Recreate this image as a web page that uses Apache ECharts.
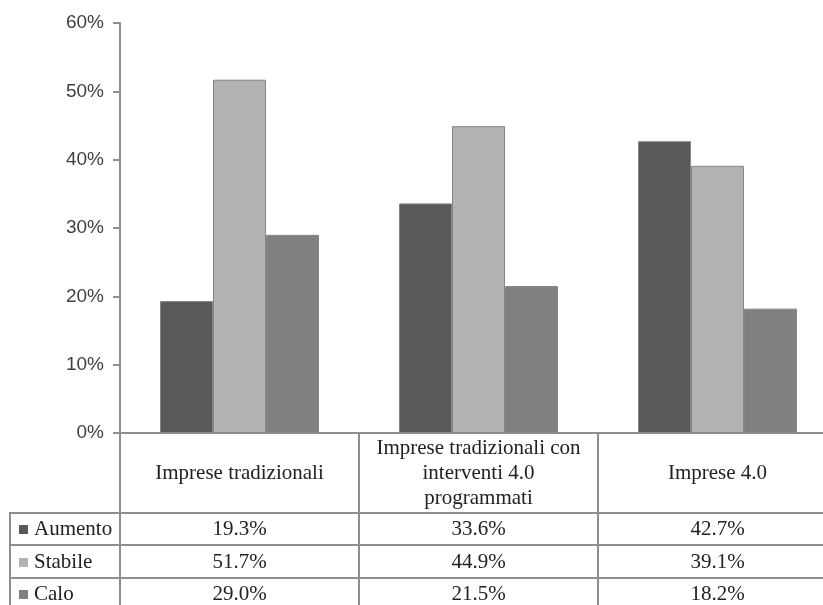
<!DOCTYPE html>
<html>
<head>
<meta charset="utf-8">
<script src="https://cdn.jsdelivr.net/npm/echarts@6/dist/echarts.min.js"></script>
<style>
  html, body { margin: 0; padding: 0; background: #fff; }
  #chart { width: 823px; height: 605px; }
</style>
</head>
<body>
<div id="chart"></div>
<script>
// categorie (intestazione tabella)
const categories = ['Imprese tradizionali', 'Imprese tradizionali con\ninterventi 4.0\nprogrammati', 'Imprese 4.0']
const seriesNames = ['Aumento', 'Stabile', 'Calo']
const aumento = [19.3, 33.6, 42.7]
const stabile = [51.7, 44.9, 39.1]
const calo = [29.0, 21.5, 18.2]
const yTicks = [0, 10, 20, 30, 40, 50, 60]

const colors = ['#595959', '#b3b3b3', '#808080']
const lineColor = '#8f8f8f'
const serif = '"Liberation Serif", "DejaVu Serif", serif'
const pct = v => v.toFixed(1) + '%'
const rowCenters = [529, 562, 594] // centro verticale delle righe della tabella

// riga valori della tabella sotto l'asse
const rowAxis = (values, margin) => ({
  type: 'category',
  gridIndex: 0,
  position: 'bottom',
  data: values.map(pct),
  axisLine: { show: false },
  axisTick: { show: false },
  axisLabel: {
    margin: margin,
    verticalAlign: 'middle',
    fontFamily: serif,
    fontSize: 21,
    color: '#222'
  }
})

// legenda come prima colonna della tabella
const legendItems = []
seriesNames.forEach((name, i) => {
  legendItems.push({
    type: 'rect',
    shape: { x: 19, y: rowCenters[i] - 4, width: 9, height: 9 },
    style: { fill: colors[i] }
  })
  legendItems.push({
    type: 'text',
    x: 34,
    y: rowCenters[i],
    style: { text: name, fontFamily: serif, fontSize: 21, fill: '#222', verticalAlign: 'middle' }
  })
})

const chart = echarts.init(document.getElementById('chart'))
const option = {
  animation: false,
  grid: { left: 120, right: -14, top: 23, bottom: 172, outerBoundsMode: 'none' },
  color: colors,
  xAxis: [
    {
      type: 'category',
      data: categories,
      axisLine: { lineStyle: { color: lineColor, width: 2 } },
      axisTick: { show: true, interval: 0, length: 175, lineStyle: { color: lineColor, width: 2 } },
      axisLabel: {
        interval: 0,
        margin: 40,
        verticalAlign: 'middle',
        fontFamily: serif,
        fontSize: 21,
        lineHeight: 25,
        color: '#222'
      }
    },
    rowAxis(aumento, rowCenters[0] - 433),
    rowAxis(stabile, rowCenters[1] - 433),
    rowAxis(calo, rowCenters[2] - 433)
  ],
  yAxis: {
    type: 'value',
    min: yTicks[0],
    max: yTicks[yTicks.length - 1],
    interval: 10,
    axisLine: { show: true, lineStyle: { color: lineColor, width: 2 } },
    axisTick: { show: true, length: 7, lineStyle: { color: lineColor, width: 2 } },
    splitLine: { show: false },
    axisLabel: {
      margin: 16,
      formatter: '{value}%',
      fontFamily: '"Liberation Sans", Arial, sans-serif',
      fontSize: 19,
      color: '#404040'
    }
  },
  series: [aumento, stabile, calo].map((vals, i) => ({
    name: seriesNames[i],
    type: 'bar',
    xAxisIndex: 0,
    data: vals,
    barWidth: 53,
    barGap: '0%',
    itemStyle: { color: colors[i], borderColor: '#858585', borderWidth: 1 }
  })),
  graphic: [
    { type: 'line', shape: { x1: 10, y1: 513, x2: 823, y2: 513 }, style: { stroke: lineColor, lineWidth: 2 } },
    { type: 'line', shape: { x1: 10, y1: 545, x2: 823, y2: 545 }, style: { stroke: lineColor, lineWidth: 2 } },
    { type: 'line', shape: { x1: 10, y1: 578, x2: 823, y2: 578 }, style: { stroke: lineColor, lineWidth: 2 } },
    { type: 'line', shape: { x1: 10, y1: 512, x2: 10, y2: 605 }, style: { stroke: lineColor, lineWidth: 2 } }
  ].concat(legendItems)
}
chart.setOption(option)
</script>
</body>
</html>
